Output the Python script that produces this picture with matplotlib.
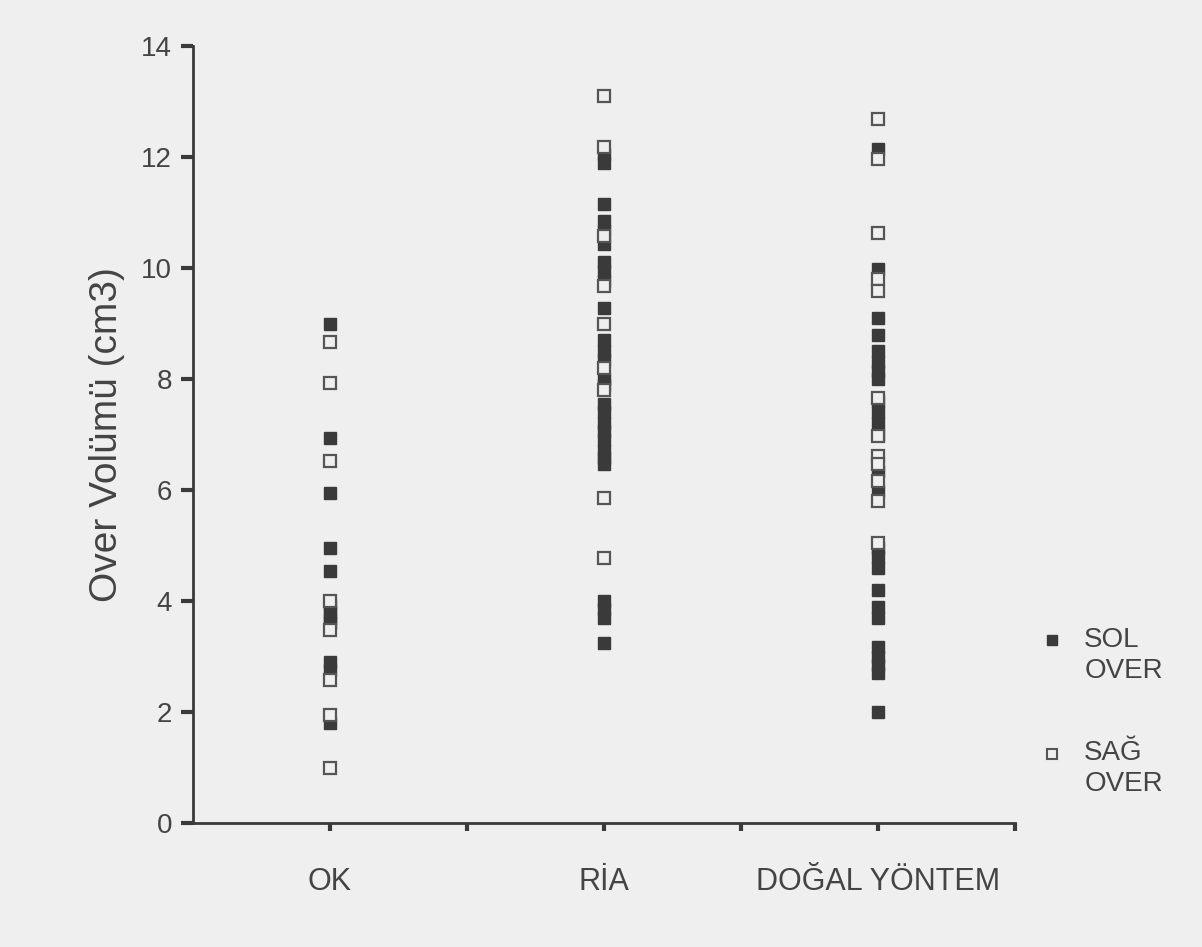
import matplotlib.pyplot as plt

plt.rcParams['font.family'] = ['Liberation Sans', 'DejaVu Sans']

groups = ['OK', 'RİA', 'DOĞAL YÖNTEM']
group_x = [1, 2, 3]

# sol over (filled squares)
sol_ok = [9.0, 6.94, 5.94, 4.95, 4.55, 3.92, 3.8, 3.7, 3.6, 2.9, 2.75, 1.8]
sol_ria = [12.05, 11.9, 11.15, 10.85, 10.67, 10.43, 10.1, 9.95, 9.77, 9.28,
           8.7, 8.5, 8.35, 8.0, 7.9, 7.55, 7.4, 7.2, 7.07, 6.9, 6.7, 6.58,
           6.47, 4.0, 3.85, 3.7, 3.25]
sol_dogal = [12.14, 9.98, 9.1, 8.8, 8.5, 8.3, 8.15, 8.0, 7.6, 7.4, 7.2, 7.0,
             6.35, 5.99, 4.96, 4.8, 4.6, 4.19, 3.9, 3.7, 3.17, 3.0, 2.85, 2.7,
             2.0]

# sağ over (open squares)
sag_ok = [8.67, 7.93, 6.53, 4.0, 3.47, 2.57, 1.94, 1.0]
sag_ria = [13.1, 12.18, 10.58, 9.68, 9.0, 8.2, 7.8, 5.86, 4.77]
sag_dogal = [12.68, 11.96, 10.63, 9.8, 9.59, 7.66, 6.98, 6.62, 6.47, 6.17,
             5.81, 5.05]

bg = '#efefef'
ink = '#3a3a3a'
txt = '#444444'

fig = plt.figure(figsize=(12.02, 9.47), dpi=100, facecolor=bg)
ax = fig.add_axes([0.1606, 0.1309, 0.6838, 0.8205])
ax.set_facecolor(bg)

for x, vals in zip(group_x, [sol_ok, sol_ria, sol_dogal]):
    ax.plot([x] * len(vals), vals, 's', color=ink, markersize=8,
            markeredgecolor=ink, linestyle='none')
for x, vals in zip(group_x, [sag_ok, sag_ria, sag_dogal]):
    ax.plot([x] * len(vals), vals, 's', markerfacecolor=bg, markersize=8,
            markeredgecolor='#555555', markeredgewidth=1.6, linestyle='none')

ax.set_xlim(0.5, 3.5)
ax.set_ylim(0, 14)
ax.set_yticks(range(0, 15, 2))
ax.set_xticks([1, 1.5, 2, 2.5, 3, 3.5])
ax.set_xticklabels([groups[0], '', groups[1], '', groups[2], ''])

for s in ['top', 'right']:
    ax.spines[s].set_visible(False)
for s in ['left', 'bottom']:
    ax.spines[s].set_color(ink)
    ax.spines[s].set_linewidth(2)

ax.tick_params(axis='y', direction='out', length=9, width=3, color=ink,
               labelsize=20, labelcolor=txt, pad=6)
ax.tick_params(axis='x', direction='out', length=6, width=3, color=ink,
               labelsize=22, labelcolor=txt, pad=26)

ax.set_ylabel('Over Volümü (cm3)', fontsize=28, color=txt, labelpad=12)

# legend
ax.plot([0.8752], [0.324], 's', color=ink, markersize=7,
        transform=fig.transFigure, clip_on=False)
fig.text(0.902, 0.308, 'SOL\nOVER', fontsize=20, color=txt,
         ha='left', va='center', linespacing=1.25)
ax.plot([0.8752], [0.204], 's', markerfacecolor=bg, markeredgecolor='#555555',
        markeredgewidth=1.5, markersize=7, transform=fig.transFigure,
        clip_on=False)
fig.text(0.902, 0.188, 'SAĞ\nOVER', fontsize=20, color=txt,
         ha='left', va='center', linespacing=1.25)

fig.savefig('out.png', dpi=100, facecolor=bg)
